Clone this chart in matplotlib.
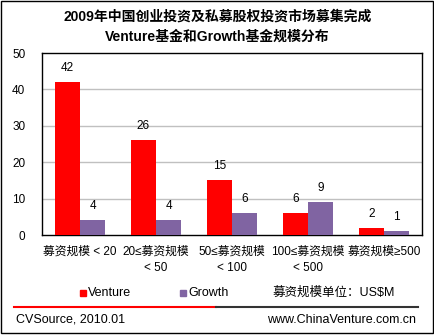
import matplotlib
matplotlib.use("Agg")
import matplotlib.pyplot as plt
import numpy as np
from matplotlib.patches import Rectangle
from matplotlib.lines import Line2D

FONT = ["Liberation Sans", "Noto Sans CJK SC", "DejaVu Sans"]
plt.rcParams["font.family"] = FONT

RED = "#FF0000"; PURPLE = "#8064A2"; GRID = "#C0C0C0"

categories = ["募资规模 < 20", "20≤募资规模\n< 50", "50≤募资规模\n< 100",
              "100≤募资规模\n< 500", "募资规模≥500"]
venture = [42, 26, 15, 6, 2]
growth = [4, 4, 6, 9, 1]
yticks = [0, 10, 20, 30, 40, 50]

W, H = 435, 335
fig = plt.figure(figsize=(W / 100, H / 100), dpi=100)
fig.patch.set_facecolor("white")

def fx(px): return px / W
def fy(py): return 1 - py / H

ax = fig.add_axes([fx(42), fy(235), fx(422) - fx(42), fy(53) - fy(235)])
x = np.arange(len(categories))
bw = 0.33
ax.bar(x - bw / 2, venture, width=bw, color=RED, zorder=3)
ax.bar(x + bw / 2, growth, width=bw, color=PURPLE, zorder=3)
for i, (v, g) in enumerate(zip(venture, growth)):
    ax.text(i - bw / 2, v + 2.2, str(v), ha="center", va="bottom", fontsize=8.5)
    ax.text(i + bw / 2, g + 2.2, str(g), ha="center", va="bottom", fontsize=8.5)

ax.set_xlim(-0.5, len(categories) - 0.5)
ax.set_ylim(0, 50)
ax.set_yticks(yticks)
ax.set_yticklabels([str(t) for t in yticks], fontsize=8.5)
ax.set_xticks(x)
ax.set_xticklabels(categories, fontsize=8.5, linespacing=1.45)
ax.tick_params(axis="both", length=0)
ax.tick_params(axis="y", pad=12)
ax.tick_params(axis="x", pad=8)
for t in ax.get_yticks()[1:-1]:
    ax.axhline(t, color=GRID, lw=1, zorder=1)
for s in ax.spines.values():
    s.set_color("black"); s.set_linewidth(1)

# title
fig.text(0.5, fy(17), "2009年中国创业投资及私募股权投资市场募集完成",
         ha="center", va="center", fontsize=10, fontweight="bold")
fig.text(0.5, fy(37), "Venture基金和Growth基金规模分布",
         ha="center", va="center", fontsize=10, fontweight="bold")

# legend
fig.patches.append(Rectangle((fx(80), fy(296)), fx(6), fy(290) - fy(296),
                             transform=fig.transFigure, color=RED))
fig.text(fx(88), fy(293), "Venture", va="center", fontsize=9)
fig.patches.append(Rectangle((fx(180), fy(296)), fx(6), fy(290) - fy(296),
                             transform=fig.transFigure, color=PURPLE))
fig.text(fx(188), fy(293), "Growth", va="center", fontsize=9)
fig.text(fx(273), fy(293), "募资规模单位：US$M", va="center", fontsize=9)

# separator lines
fig.lines.append(Line2D([fx(14), fx(216)], [fy(307), fy(307)], color=RED, lw=1.5,
                        transform=fig.transFigure))
fig.lines.append(Line2D([fx(216), fx(418)], [fy(307), fy(307)], color="#333333", lw=1.5,
                        transform=fig.transFigure))

# footer
fig.text(fx(16), fy(320), "CVSource, 2010.01", va="center", fontsize=9)
fig.text(fx(416), fy(320), "www.ChinaVenture.com.cn", ha="right", va="center", fontsize=9)

# outer border
fig.patches.append(Rectangle((fx(1), fy(333)), fx(432), fy(1) - fy(333), fill=False,
                             edgecolor="black", lw=1, transform=fig.transFigure))

fig.savefig("out.png", dpi=100)
